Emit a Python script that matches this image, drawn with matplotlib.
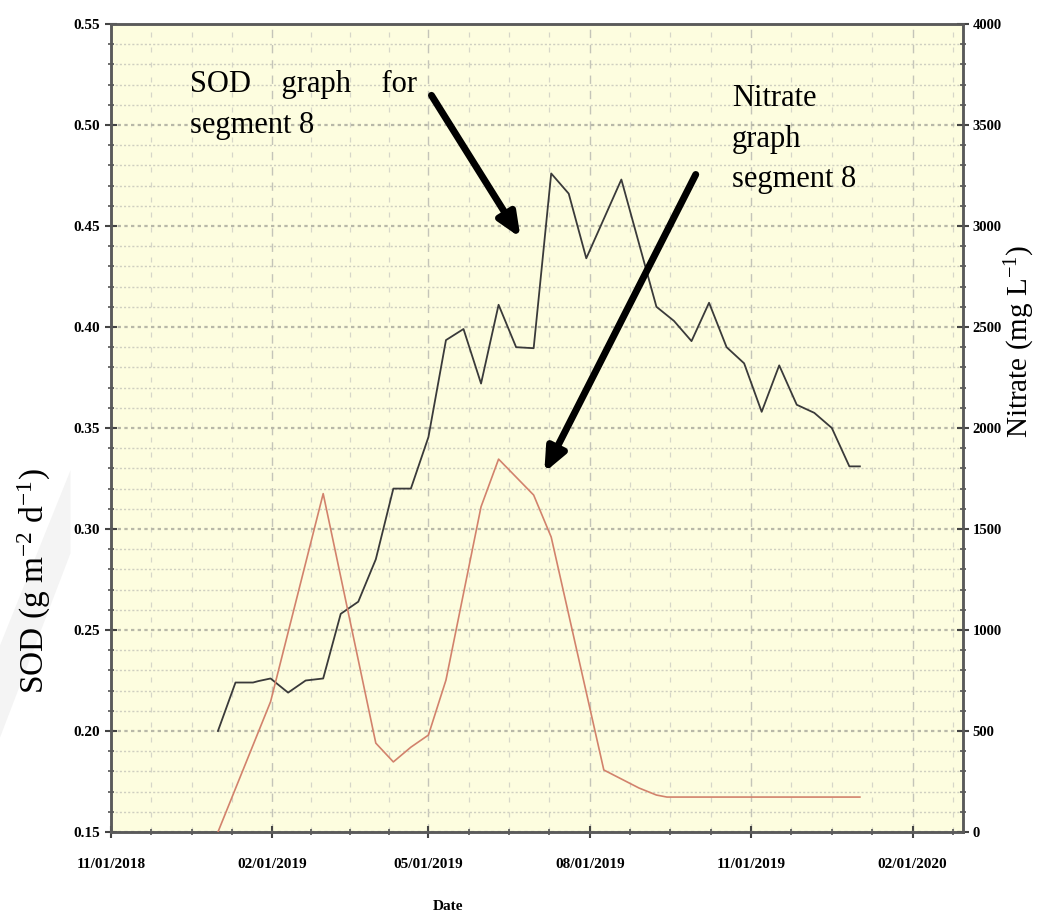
import matplotlib
matplotlib.use('Agg')
import matplotlib.pyplot as plt
import matplotlib.dates as mdates
from matplotlib.patches import Polygon
import numpy as np
import pandas as pd

plt.rcParams['font.family'] = ['Liberation Serif', 'DejaVu Serif']
plt.rcParams['mathtext.default'] = 'regular'

# SOD series (left axis)
sod_dates = ['2019-01-01', '2019-01-11', '2019-01-21', '2019-01-24', '2019-01-31',
             '2019-02-10', '2019-02-20', '2019-03-02', '2019-03-12', '2019-03-22',
             '2019-04-01', '2019-04-11', '2019-04-21', '2019-05-01', '2019-05-11',
             '2019-05-21', '2019-05-31', '2019-06-10', '2019-06-20', '2019-06-30',
             '2019-07-10', '2019-07-20', '2019-07-30', '2019-08-19', '2019-09-08',
             '2019-09-18', '2019-09-28', '2019-10-08', '2019-10-18', '2019-10-28',
             '2019-11-07', '2019-11-17', '2019-11-27', '2019-12-07', '2019-12-17',
             '2019-12-27', '2020-01-02']
sod_vals = [0.200, 0.224, 0.224, 0.2247, 0.226,
            0.219, 0.225, 0.226, 0.258, 0.264,
            0.285, 0.320, 0.320, 0.3455, 0.3935,
            0.399, 0.372, 0.411, 0.390, 0.3895,
            0.476, 0.466, 0.434, 0.473, 0.410,
            0.403, 0.393, 0.412, 0.390, 0.382,
            0.358, 0.381, 0.3615, 0.3575, 0.350,
            0.331, 0.331]

# Nitrate series (right axis)
no3_dates = ['2019-01-01', '2019-01-31', '2019-03-02', '2019-04-01', '2019-04-11',
             '2019-04-21', '2019-05-01', '2019-05-11', '2019-05-31', '2019-06-10',
             '2019-06-30', '2019-07-10', '2019-08-09', '2019-08-29', '2019-09-08',
             '2019-09-14', '2020-01-02']
no3_vals = [0, 645, 1675, 440, 347,
            420, 480, 752, 1610, 1846,
            1668, 1460, 307, 218, 183,
            173, 173]

major_dates = ['2018-11-01', '2019-02-01', '2019-05-01', '2019-08-01', '2019-11-01', '2020-02-01']
major_labels = ['11/01/2018', '02/01/2019', '05/01/2019', '08/01/2019', '11/01/2019', '02/01/2020']

fig = plt.figure(figsize=(10.37, 9.22), dpi=100)
ax = fig.add_axes([0.107, 0.0976, 0.822, 0.8764])
ax.set_facecolor('#fdfddf')

# very faint watermark band on the left
fig.patches.append(Polygon([[0, 0.30], [0.068, 0.49], [0.068, 0.40], [0, 0.20]],
                           closed=True, transform=fig.transFigure,
                           facecolor='#f4f4f4', edgecolor='none', zorder=0))

ax.plot(pd.to_datetime(sod_dates), sod_vals, color='#3a3a3a', lw=1.3, zorder=4)
ax.set_ylim(0.15, 0.55)
ax.set_yticks(np.arange(0.15, 0.551, 0.05))
ax.set_yticks(np.arange(0.15, 0.551, 0.01), minor=True)
ax.yaxis.set_major_formatter(matplotlib.ticker.FormatStrFormatter('%.2f'))

xmaj = mdates.date2num(pd.to_datetime(major_dates))
xmin_lim = xmaj[0]
xmax_lim = mdates.date2num(pd.Timestamp('2020-03-01'))
minors = []
for a, b in zip(xmaj[:-1], xmaj[1:]):
    minors += list(np.linspace(a, b, 5)[1:-1])
minors.append(xmaj[-1] + (xmaj[-1] - xmaj[-2]) / 4)
ax.set_xlim(xmin_lim, xmax_lim)
ax.set_xticks(xmaj)
ax.set_xticklabels(major_labels)
ax.set_xticks(minors, minor=True)

ax.grid(which='major', axis='y', color='#b8b8a8', linestyle=(0, (1.5, 1.5)), lw=1.6)
ax.grid(which='minor', axis='y', color='#cfcfc0', linestyle=(0, (1.5, 1.5)), lw=1.0)
ax.grid(which='major', axis='x', color='#c4c4b8', linestyle=(0, (6, 5)), lw=1.0)
ax.grid(which='minor', axis='x', color='#d6d6c8', linestyle=(0, (4, 8)), lw=0.9)
ax.set_axisbelow(True)

for s in ax.spines.values():
    s.set_color('#5a5a5a')
    s.set_linewidth(1.8)

ax.tick_params(axis='both', which='major', direction='inout', length=9, width=1.5,
               color='#444444', labelsize=11)
ax.tick_params(axis='both', which='minor', direction='inout', length=5, width=1.2,
               color='#555555')
ax.tick_params(axis='x', which='major', pad=14)
for lab in ax.get_xticklabels() + ax.get_yticklabels():
    lab.set_fontweight('bold')

ax2 = ax.twinx()
ax2.plot(pd.to_datetime(no3_dates), no3_vals, color='#d2826c', lw=1.2, zorder=3)
ax2.set_ylim(0, 4000)
ax2.set_yticks(np.arange(0, 4001, 500))
ax2.set_yticks(np.arange(0, 4001, 100), minor=True)
ax2.tick_params(axis='y', which='major', direction='inout', length=9, width=1.5,
                color='#444444', labelsize=10.5, pad=2)
ax2.tick_params(axis='y', which='minor', direction='inout', length=5, width=1.2,
                color='#555555')
for lab in ax2.get_yticklabels():
    lab.set_fontweight('bold')
for s in ax2.spines.values():
    s.set_color('#5a5a5a')
    s.set_linewidth(1.8)

# axis labels
fig.text(0.033, 0.37, 'SOD (g m$^{-2}$ d$^{-1}$)', rotation=90, fontsize=24,
         ha='center', va='center')
fig.text(0.984, 0.63, 'Nitrate (mg L$^{-1}$)', rotation=90, fontsize=21,
         ha='center', va='center')
fig.text(0.432, 0.017, 'Date', fontsize=11, fontweight='bold', ha='center', va='center')

# annotations
fig.text(0.183, 0.908, 'SOD    graph    for', fontsize=22, ha='left', va='center')
fig.text(0.183, 0.864, 'segment 8', fontsize=22, ha='left', va='center')
fig.text(0.706, 0.893, 'Nitrate', fontsize=22, ha='left', va='center')
fig.text(0.706, 0.849, 'graph', fontsize=22, ha='left', va='center')
fig.text(0.706, 0.805, 'segment 8', fontsize=22, ha='left', va='center')

fig.patches.append(matplotlib.patches.FancyArrowPatch(
    (430 / 1037, 1 - 93 / 922), (522 / 1037, 1 - 240 / 922), transform=fig.transFigure,
    arrowstyle='-|>,head_length=14,head_width=6', lw=5, color='black', zorder=10))
fig.patches.append(matplotlib.patches.FancyArrowPatch(
    (697 / 1037, 1 - 172 / 922), (543 / 1037, 1 - 475 / 922), transform=fig.transFigure,
    arrowstyle='-|>,head_length=14,head_width=6', lw=5, color='black', zorder=10))

fig.savefig('out.png', dpi=100, facecolor='white')
